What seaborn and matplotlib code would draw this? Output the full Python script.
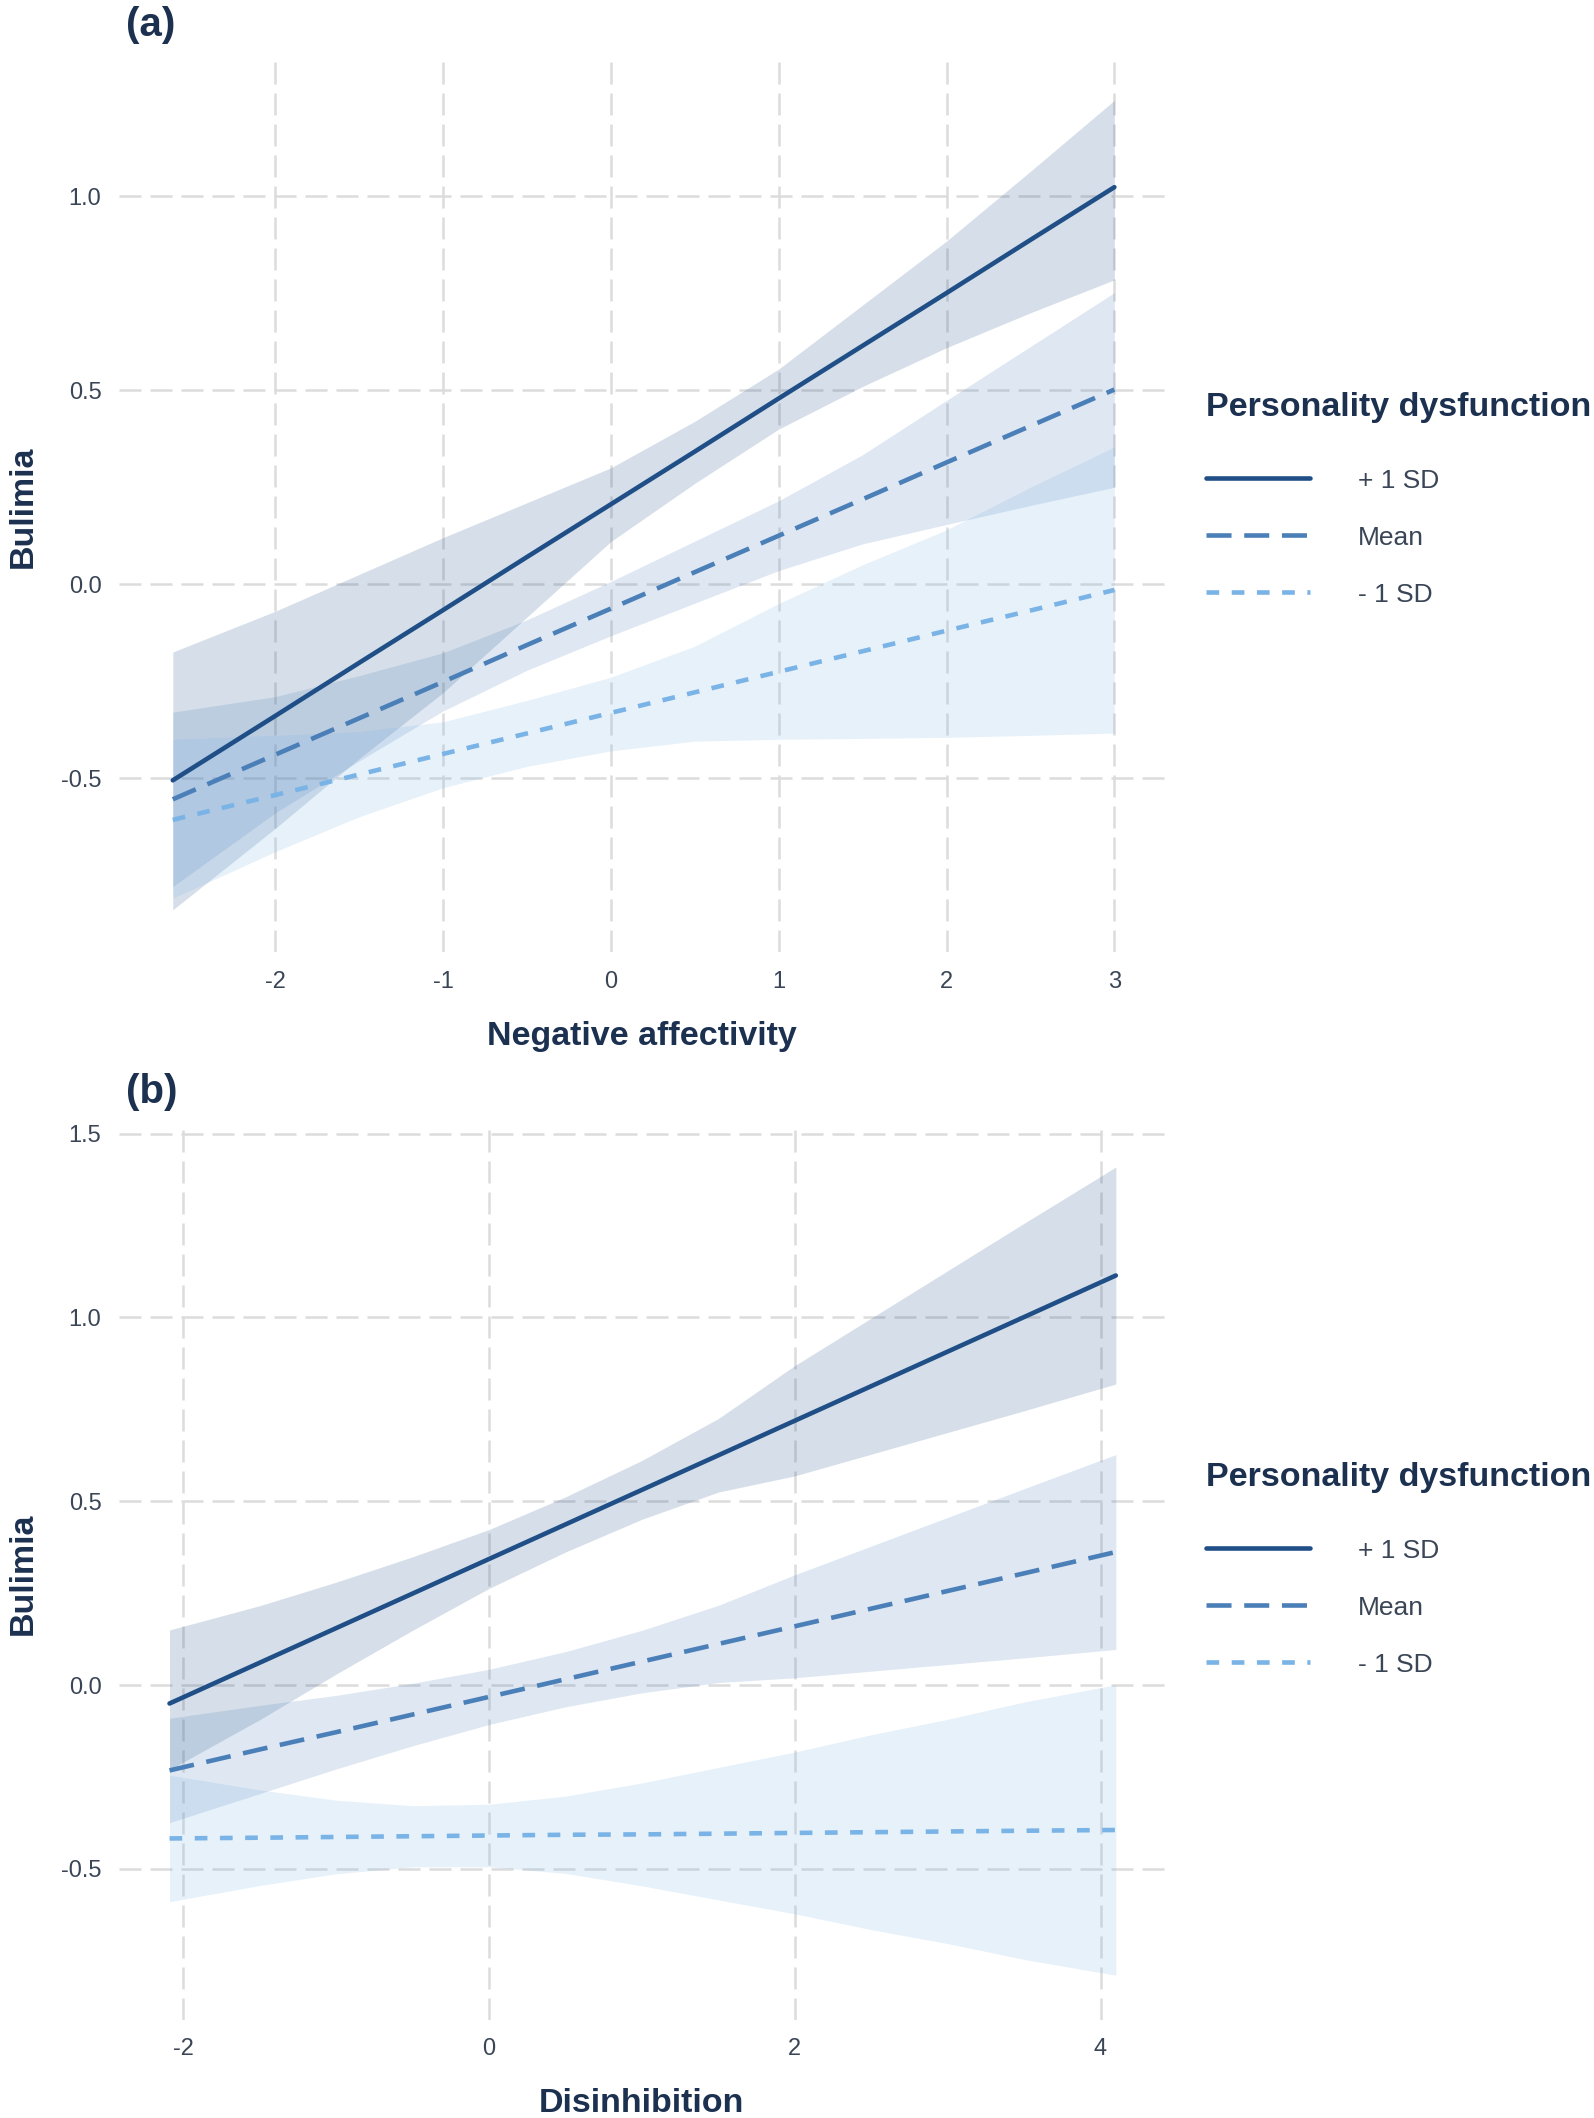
import numpy as np
import pandas as pd
import matplotlib
matplotlib.use("Agg")
import matplotlib.pyplot as plt
from matplotlib.lines import Line2D
import seaborn as sns

# groups of the moderator
groups = ["+ 1 SD", "Mean", "- 1 SD"]

# panel (a): Negative affectivity
x_a = [-2.61, -2.0, -1.5, -1.0, -0.5, 0.0, 0.5, 1.0, 1.5, 2.0, 2.5, 3.0]
plus_fit_a = [-0.506, -0.340, -0.203, -0.067, 0.070, 0.206, 0.342, 0.479, 0.615, 0.751, 0.888, 1.024]
plus_lo_a = [-0.84, -0.63, -0.45, -0.28, -0.085, 0.11, 0.26, 0.40, 0.51, 0.61, 0.70, 0.785]
plus_hi_a = [-0.175, -0.07, 0.025, 0.12, 0.21, 0.30, 0.42, 0.555, 0.72, 0.885, 1.065, 1.248]
mean_fit_a = [-0.555, -0.440, -0.346, -0.252, -0.157, -0.063, 0.031, 0.125, 0.219, 0.314, 0.408, 0.502]
mean_lo_a = [-0.78, -0.59, -0.456, -0.327, -0.222, -0.133, -0.049, 0.035, 0.104, 0.154, 0.203, 0.25]
mean_hi_a = [-0.33, -0.29, -0.236, -0.177, -0.092, 0.007, 0.111, 0.215, 0.334, 0.474, 0.613, 0.752]
minus_fit_a = [-0.608, -0.544, -0.491, -0.438, -0.385, -0.332, -0.279, -0.226, -0.173, -0.120, -0.068, -0.015]
minus_lo_a = [-0.81, -0.69, -0.60, -0.525, -0.47, -0.43, -0.405, -0.40, -0.398, -0.395, -0.39, -0.384]
minus_hi_a = [-0.40, -0.39, -0.38, -0.355, -0.30, -0.24, -0.16, -0.05, 0.05, 0.14, 0.25, 0.354]

# panel (b): Disinhibition
x_b = [-2.09, -1.5, -1.0, -0.5, 0.0, 0.5, 1.0, 1.5, 2.0, 2.5, 3.0, 3.5, 4.1]
plus_fit_b = [-0.05, 0.061, 0.155, 0.249, 0.343, 0.437, 0.531, 0.625, 0.719, 0.813, 0.907, 1.001, 1.114]
plus_lo_b = [-0.23, -0.094, 0.03, 0.149, 0.263, 0.362, 0.451, 0.525, 0.569, 0.628, 0.687, 0.746, 0.819]
plus_hi_b = [0.15, 0.216, 0.28, 0.349, 0.423, 0.512, 0.611, 0.725, 0.869, 0.998, 1.127, 1.256, 1.409]
mean_fit_b = [-0.232, -0.175, -0.128, -0.080, -0.032, 0.016, 0.064, 0.112, 0.160, 0.208, 0.256, 0.304, 0.362]
mean_lo_b = [-0.374, -0.295, -0.228, -0.165, -0.107, -0.059, -0.021, 0.007, 0.02, 0.038, 0.056, 0.074, 0.097]
mean_hi_b = [-0.09, -0.055, -0.028, 0.005, 0.043, 0.091, 0.149, 0.217, 0.30, 0.378, 0.456, 0.534, 0.627]
minus_fit_b = [-0.417, -0.415, -0.413, -0.411, -0.409, -0.407, -0.406, -0.404, -0.402, -0.400, -0.398, -0.396, -0.394]
minus_lo_b = [-0.589, -0.545, -0.513, -0.494, -0.494, -0.512, -0.546, -0.584, -0.622, -0.665, -0.703, -0.746, -0.789]
minus_hi_b = [-0.245, -0.285, -0.313, -0.328, -0.324, -0.302, -0.266, -0.224, -0.182, -0.135, -0.093, -0.046, 0.001]

xticks_a = [-2, -1, 0, 1, 2, 3]
yticks_a = [-0.5, 0.0, 0.5, 1.0]
xticks_b = [-2, 0, 2, 4]
yticks_b = [-0.5, 0.0, 0.5, 1.0, 1.5]

colors = {"+ 1 SD": "#1f4f86", "Mean": "#4b7fb8", "- 1 SD": "#7ab3e6"}
dash_map = {"+ 1 SD": "", "Mean": (5.46, 2.77), "- 1 SD": (2.77, 2.73)}
navy = "#1c3050"
grey_txt = "#3a4556"
LW = 3.3

sns.set_theme(style="white")
plt.rcParams['font.family'] = ['Liberation Sans', 'DejaVu Sans']
plt.rcParams['axes.unicode_minus'] = False

fig = plt.figure(figsize=(15.94, 21.18), dpi=100)
ax_a = fig.add_axes([0.0747, 0.5503, 0.656, 0.421])
ax_b = fig.add_axes([0.0747, 0.0464, 0.656, 0.421])


def draw_panel(ax, x, fits, los, his, xlim, ylim, xticks, yticks, xlabel, tag,
               leg_title_y, leg_mid_y):
    ax.set_axisbelow(True)
    for g, lo, hi in zip(groups, los, his):
        ax.fill_between(x, lo, hi, color=colors[g], alpha=0.18, linewidth=0)

    df = pd.concat([pd.DataFrame({"x": x, "y": f, "group": g})
                    for g, f in zip(groups, fits)], ignore_index=True)
    sns.lineplot(data=df, x="x", y="y", hue="group", style="group",
                 palette=colors, dashes=dash_map, linewidth=LW,
                 errorbar=None, legend=False, ax=ax)

    ax.set_xlim(*xlim)
    ax.set_ylim(*ylim)
    ax.set_xticks(xticks)
    ax.set_xticklabels([str(t) for t in xticks])
    ax.set_yticks(yticks)
    ax.set_yticklabels([f"{t:.1f}" for t in yticks])
    ax.grid(True, color="#dcdcdc", linewidth=1.8, linestyle=(0, (8.8, 3.6)))
    sns.despine(ax=ax, left=True, bottom=True)
    ax.tick_params(axis="x", length=0, pad=13.4, labelsize=17, labelcolor=grey_txt)
    ax.tick_params(axis="y", length=0, pad=12.7, labelsize=17, labelcolor=grey_txt)

    ax.set_xlabel(xlabel, fontsize=24.5, fontweight="bold", color=navy, labelpad=19.8)
    ax.set_ylabel("Bulimia", fontsize=24.5, fontweight="bold", color=navy, labelpad=16)
    ax.set_title(tag, loc="left", fontsize=29, fontweight="bold", color=navy,
                 pad=18, x=0.007)

    handles = [Line2D([], [], color=colors[g], linewidth=LW, dashes=dash_map[g])
               for g in groups]
    ax.legend(handles, groups, loc="center left",
              bbox_to_anchor=(0.7566, leg_mid_y), bbox_transform=fig.transFigure,
              frameon=False, fontsize=19, labelcolor=grey_txt,
              handlelength=3.94, handletextpad=1.82, labelspacing=1.25,
              borderpad=0, borderaxespad=0)
    fig.text(0.7566, leg_title_y, "Personality dysfunction", ha="left", va="center",
             fontsize=24.5, fontweight="bold", color=navy)


draw_panel(ax_a, x_a,
           [plus_fit_a, mean_fit_a, minus_fit_a],
           [plus_lo_a, mean_lo_a, minus_lo_a],
           [plus_hi_a, mean_hi_a, minus_hi_a],
           (-2.93, 3.30), (-0.95, 1.35), xticks_a, yticks_a,
           "Negative affectivity", "(a)", 0.8075, 0.7462)

draw_panel(ax_b, x_b,
           [plus_fit_b, mean_fit_b, minus_fit_b],
           [plus_lo_b, mean_lo_b, minus_lo_b],
           [plus_hi_b, mean_hi_b, minus_hi_b],
           (-2.42, 4.42), (-0.91, 1.515), xticks_b, yticks_b,
           "Disinhibition", "(b)", 0.3023, 0.241)

fig.savefig("out.png", dpi=100)
